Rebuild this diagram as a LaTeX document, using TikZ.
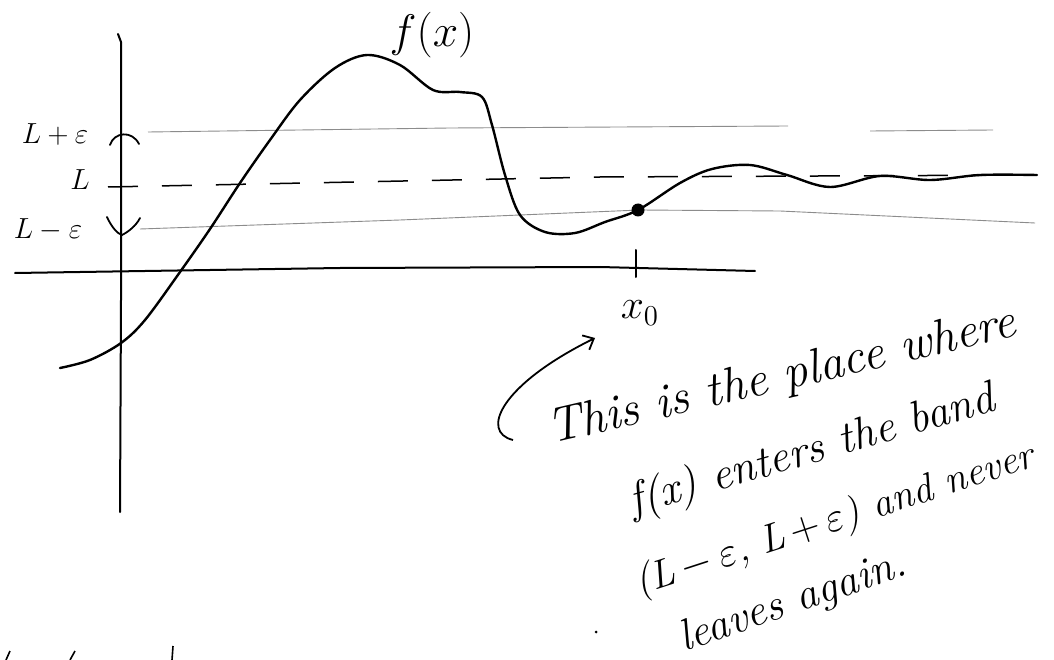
\documentclass[tikz,border=0pt]{standalone}
\usepackage{fontspec}
\usetikzlibrary{arrows.meta}
\tikzset{
  axis/.style={line width=2pt, line cap=round},
  curve/.style={line width=2.4pt, line cap=round, line join=round},
  band/.style={line width=0.9pt, draw=black!45},
  limit/.style={line width=1.5pt, dash pattern=on 30pt off 24pt},
  paren/.style={line width=1.8pt, line cap=round},
  lbl/.style={inner sep=0pt, font=\fontsize{20}{24}\selectfont},
  note/.style={inner sep=0pt, font=\fontsize{20}{24}\selectfont\itshape},
  pointer/.style={-{Straight Barb[length=9pt,width=16pt]}, line width=1.8pt}
}

\begin{document}
\begin{tikzpicture}[x=1pt, y=-1pt]
  \useasboundingbox (0,0) rectangle (1054,660);
  \fill[white] (0,0) rectangle (1054,660);
  % band around L
  \draw[band] (148,132) -- (450,128) -- (788,126);
  \draw[band] (870,131) -- (993,130);
  \draw[band] (140,229) -- (400,220) -- (640,210) -- (780,211) -- (1035,223);
  \draw[limit] (108,187) -- (600,177) -- (1037,175);
  % axes
  \draw[axis] (15,273) -- (340,268) -- (600,267) -- (755,271);
  \draw[axis] (118,34) -- (121,42) -- (121,300) -- (120,512);
  \draw[axis] (636,250) -- (636,277);
  % parens on the y-axis
  \draw[paren] (110,145) .. controls (114,132) and (132,130) .. (139,144);
  \draw[paren] (107,217) .. controls (112,228) and (118,234) .. (122,235) .. controls (128,232) and (136,226) .. (140,218);
  % f(x)
  \draw[curve] plot[smooth, tension=0.55] coordinates {
    (60,368) (90,360) (121,343) (145,320) (180,272) (210,229) (240,183)
    (270,140) (300,100) (335,68) (367,55) (400,65) (433,90) (460,92)
    (482,97) (492,125) (505,175) (520,215) (545,232) (575,233) (605,222)
    (638,210) (680,183) (712,169) (750,165) (787,175) (830,187) (880,176)
    (930,180) (980,175) (1037,175)};
  \node[circle, fill, inner sep=0pt, minimum size=13pt] (pt) at (638,210) {};
  % labels
  \node[lbl] (lpe) at (55,135) {\scalebox{1.4}{$L+\varepsilon$}};
  \node[lbl] (l) at (80,180) {\scalebox{1.4}{$L$}};
  \node[lbl] (lme) at (48,230) {\scalebox{1.4}{$L-\varepsilon$}};
  \node[lbl] (fx) at (432,35) {\scalebox{2.2}{$f(x)$}};
  \node[lbl] (x0) at (640,313) {\scalebox{2}{$x_0$}};
  % remark
  \node[note, rotate=13] (n1) at (782,378) {\scalebox{2.45}{This is the place where}};
  \node[note, rotate=16] (n2) at (812,452) {\scalebox{2.25}{f(x) enters the band}};
  \node[note, rotate=18] (n3) at (835,521) {\scalebox{2.0}{(L$\,-\,\varepsilon$, L$\,+\,\varepsilon$) and never}};
  \node[note, rotate=19] (n4) at (793,603) {\scalebox{2.2}{leaves again.}};
  \coordinate (hook) at (513,440);
  \coordinate (tip) at (595,338);
  \draw[pointer] (hook) .. controls (480,432) and (500,385) .. (tip);
  \fill (596,632) circle (1.5pt);
  % cut off marks
  \draw[line width=1.6pt] (6,660) -- (10,651);
  \draw[line width=1.6pt] (70,660) -- (75,651);
  \draw[line width=1.6pt] (172,660) -- (173,646);
\end{tikzpicture}
\end{document}
